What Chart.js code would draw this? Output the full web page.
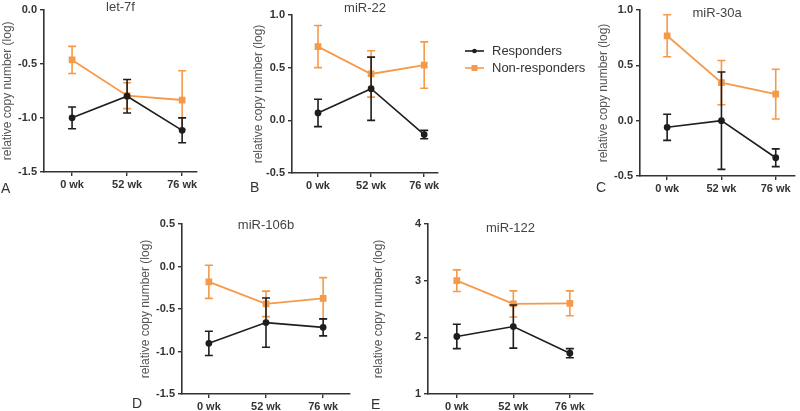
<!DOCTYPE html>
<html>
<head>
<meta charset="utf-8">
<script src="https://cdn.jsdelivr.net/npm/chart.js@4.4.0/dist/chart.umd.min.js"></script>
<style>
  body { margin: 0; background: #fff; }
  #wrap { position: relative; width: 800px; height: 411px; }
  #wrap canvas { position: absolute; left: 0; top: 0; }
</style>
</head>
<body>
<div id="wrap">
  <canvas id="chartA" width="800" height="411"></canvas>
  <canvas id="chartB" width="800" height="411"></canvas>
  <canvas id="chartC" width="800" height="411"></canvas>
  <canvas id="chartD" width="800" height="411"></canvas>
  <canvas id="chartE" width="800" height="411"></canvas>
</div>
<script>
// Datos
const semanas = ['0 wk', '52 wk', '76 wk'];
const series = ['Responders', 'Non-responders'];

const let7fResp = [-1.0, -0.80, -1.115];
const let7fRespErr = [0.10, 0.155, 0.115];
const let7fNon = [-0.465, -0.795, -0.835];
const let7fNonErr = [0.125, 0.12, 0.27];
const let7fTicks = [-1.5, -1.0, -0.5, 0.0];

const mir22Resp = [0.07, 0.30, -0.135];
const mir22RespErr = [0.13, 0.30, 0.04];
const mir22Non = [0.70, 0.44, 0.525];
const mir22NonErr = [0.20, 0.22, 0.22];
const mir22Ticks = [-0.5, 0.0, 0.5, 1.0];

const mir30aResp = [-0.06, 0.0, -0.335];
const mir30aRespErr = [0.118, 0.44, 0.08];
const mir30aNon = [0.767, 0.344, 0.24];
const mir30aNonErr = [0.19, 0.20, 0.225];
const mir30aTicks = [-0.5, 0.0, 0.5, 1.0];

const mir106bResp = [-0.904, -0.66, -0.716];
const mir106bRespErr = [0.143, 0.29, 0.10];
const mir106bNon = [-0.18, -0.44, -0.376];
const mir106bNonErr = [0.195, 0.15, 0.245];
const mir106bTicks = [-1.5, -1.0, -0.5, 0.0, 0.5];

const mir122Resp = [2.015, 2.19, 1.72];
const mir122RespErr = [0.215, 0.38, 0.08];
const mir122Non = [3.0, 2.59, 2.60];
const mir122NonErr = [0.19, 0.23, 0.22];
const mir122Ticks = [1, 2, 3, 4];

const colorResp = '#1e1e1e';
const colorNon = '#f59a4a';
const fuente = '"Liberation Sans", Arial, sans-serif';

// Posición de cada panel en la figura
const paneles = [
  { id: 'chartA', titulo: 'let-7f', letra: 'A', resp: let7fResp, respErr: let7fRespErr, non: let7fNon, nonErr: let7fNonErr,
    ticks: let7fTicks, dec: 1, area: { left: 44, top: 7, right: 197, bottom: 172 }, xMin: -0.51, xMax: 2.27,
    ejeTituloX: 7, tituloY: 7, letraPos: [1, 189] },
  { id: 'chartB', titulo: 'miR-22', letra: 'B', resp: mir22Resp, respErr: mir22RespErr, non: mir22Non, nonErr: mir22NonErr,
    ticks: mir22Ticks, dec: 1, area: { left: 292, top: 15, right: 438, bottom: 173 }, xMin: -0.49, xMax: 2.26,
    ejeTituloX: 259, tituloY: 8, letraPos: [250, 188] },
  { id: 'chartC', titulo: 'miR-30a', letra: 'C', resp: mir30aResp, respErr: mir30aRespErr, non: mir30aNon, nonErr: mir30aNonErr,
    ticks: mir30aTicks, dec: 1, area: { left: 640, top: 10, right: 798, bottom: 176 }, xMin: -0.5, xMax: 2.34,
    ejeTituloX: 604, tituloY: 13, letraPos: [596, 188], leyenda: true },
  { id: 'chartD', titulo: 'miR-106b', letra: 'D', resp: mir106bResp, respErr: mir106bRespErr, non: mir106bNon, nonErr: mir106bNonErr,
    ticks: mir106bTicks, dec: 1, area: { left: 182, top: 224, right: 350, bottom: 394 }, xMin: -0.47, xMax: 2.47,
    ejeTituloX: 146, tituloY: 225, letraPos: [132, 404] },
  { id: 'chartE', titulo: 'miR-122', letra: 'E', resp: mir122Resp, respErr: mir122RespErr, non: mir122Non, nonErr: mir122NonErr,
    ticks: mir122Ticks, dec: 0, area: { left: 428, top: 224, right: 593, bottom: 394 }, xMin: -0.51, xMax: 2.41,
    ejeTituloX: 379, tituloY: 228, letraPos: [371, 405] }
];

// Plugin para las barras de error (se dibujan antes de cada serie)
const barrasError = {
  id: 'barrasError',
  beforeDatasetDraw(chart, args) {
    const ds = chart.data.datasets[args.index];
    const ctx = chart.ctx;
    const x = chart.scales.x;
    const y = chart.scales.y;
    ctx.save();
    ctx.strokeStyle = ds.borderColor;
    ctx.lineWidth = 1.6;
    ds.data.forEach(function(p, j) {
      const e = ds.errores[j];
      const px = x.getPixelForValue(p.x);
      const arriba = y.getPixelForValue(p.y + e);
      const abajo = y.getPixelForValue(p.y - e);
      ctx.beginPath();
      ctx.moveTo(px, arriba); ctx.lineTo(px, abajo);
      ctx.moveTo(px - 4, arriba); ctx.lineTo(px + 4, arriba);
      ctx.moveTo(px - 4, abajo); ctx.lineTo(px + 4, abajo);
      ctx.stroke();
    });
    ctx.restore();
  }
};

// Plugin para títulos, letras y leyenda
const textos = {
  id: 'textos',
  afterDraw(chart, args, opts) {
    const ctx = chart.ctx;
    const a = chart.chartArea;
    ctx.save();
    ctx.textBaseline = 'middle';
    ctx.fillStyle = '#444';
    ctx.font = '13px ' + fuente;
    ctx.textAlign = 'center';
    ctx.fillText(opts.titulo, (a.left + a.right) / 2, opts.tituloY);
    ctx.fillStyle = '#333';
    ctx.font = '14px ' + fuente;
    ctx.textAlign = 'left';
    ctx.fillText(opts.letra, opts.letraPos[0], opts.letraPos[1]);
    if (opts.leyenda) {
      ctx.font = '13px ' + fuente;
      chart.data.datasets.forEach(function(ds, i) {
        const ly = 51 + i * 17;
        ctx.strokeStyle = ds.borderColor;
        ctx.fillStyle = ds.borderColor;
        ctx.lineWidth = 1.6;
        ctx.beginPath();
        ctx.moveTo(465, ly); ctx.lineTo(484, ly);
        ctx.stroke();
        if (i === 0) {
          ctx.beginPath(); ctx.arc(474.5, ly, 2.3, 0, Math.PI * 2); ctx.fill();
        } else {
          ctx.fillRect(471.5, ly - 3, 6, 6);
        }
        ctx.fillStyle = '#333';
        ctx.fillText(ds.label, 492, ly);
      });
    }
    ctx.restore();
  }
};

// Función para crear un panel
function crearPanel(p) {
  const ctx = document.getElementById(p.id).getContext('2d');
  const escalaIzq = Math.max(0, p.ejeTituloX - 7.2);
  const anchoY = p.area.left - escalaIzq;
  const altoX = 411 - p.area.bottom;
  const fuenteTicks = { family: fuente, size: 11, weight: 'bold' };
  return new Chart(ctx, {
    type: 'line',
    data: {
      datasets: [{
        label: series[0],
        data: p.resp.map(function(v, i) { return { x: i, y: v }; }),
        errores: p.respErr,
        borderColor: colorResp,
        backgroundColor: colorResp,
        borderWidth: 1.6,
        pointStyle: 'circle',
        pointRadius: 2.6,
        tension: 0
      }, {
        label: series[1],
        data: p.non.map(function(v, i) { return { x: i, y: v }; }),
        errores: p.nonErr,
        borderColor: colorNon,
        backgroundColor: colorNon,
        borderWidth: 1.8,
        pointStyle: 'rect',
        pointRadius: 3.5,
        tension: 0
      }]
    },
    options: {
      responsive: false,
      animation: false,
      devicePixelRatio: 1,
      clip: false,
      layout: { padding: { left: escalaIzq, top: p.area.top, right: 800 - p.area.right, bottom: 0 } },
      plugins: {
        legend: { display: false },
        tooltip: { enabled: false },
        textos: { titulo: p.titulo, tituloY: p.tituloY, letra: p.letra, letraPos: p.letraPos, leyenda: !!p.leyenda }
      },
      scales: {
        x: {
          type: 'linear',
          min: p.xMin,
          max: p.xMax,
          afterBuildTicks: function(s) { s.ticks = semanas.map(function(t, i) { return { value: i }; }); },
          afterFit: function(s) { s.height = altoX; },
          grid: { drawOnChartArea: false, drawTicks: true, tickLength: 4, color: '#333', lineWidth: 1.4 },
          border: { display: true, color: '#333', width: 1.6 },
          ticks: {
            padding: 2,
            color: '#333',
            font: fuenteTicks,
            maxRotation: 0,
            autoSkip: false,
            callback: function(v) { return semanas[v]; }
          }
        },
        y: {
          min: p.ticks[0],
          max: p.ticks[p.ticks.length - 1],
          afterBuildTicks: function(s) { s.ticks = p.ticks.map(function(v) { return { value: v }; }); },
          afterFit: function(s) { s.width = anchoY; },
          grid: { drawOnChartArea: false, drawTicks: true, tickLength: 4, color: '#333', lineWidth: 1.4 },
          border: { display: true, color: '#333', width: 1.6 },
          ticks: {
            padding: 3,
            color: '#333',
            font: fuenteTicks,
            callback: function(v) { return v.toFixed(p.dec); }
          },
          title: {
            display: true,
            text: 'relative copy number (log)',
            color: '#555',
            padding: 0,
            font: { family: fuente, size: 12 }
          }
        }
      }
    },
    plugins: [barrasError, textos]
  });
}

paneles.forEach(crearPanel);
</script>
</body>
</html>
